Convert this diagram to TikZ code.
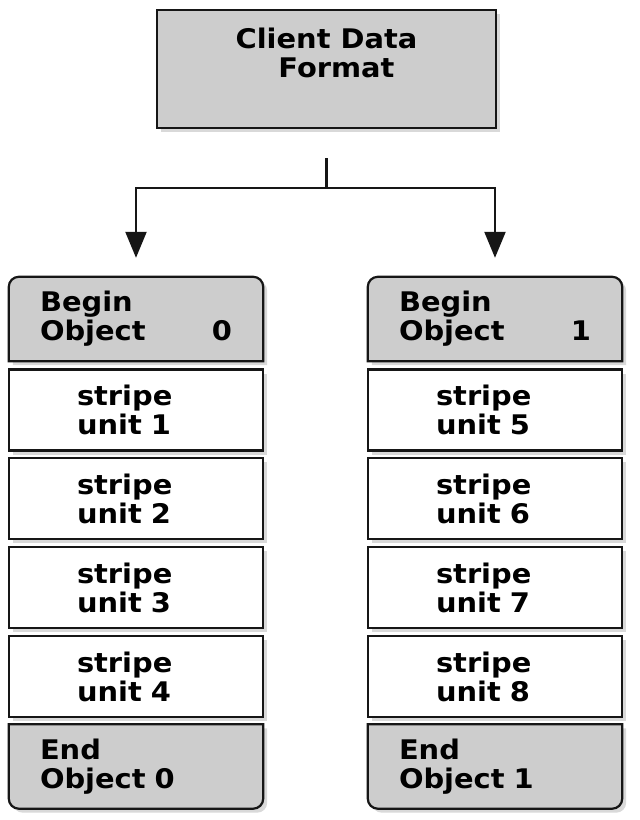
\documentclass[tikz,border=0pt]{standalone}
\usepackage{fontspec}
\setmainfont{DejaVu Sans}[FakeStretch=1.07]
\usetikzlibrary{arrows.meta,shadows,backgrounds}
\definecolor{BoxGray}{RGB}{205,205,205}
\definecolor{LineBlack}{RGB}{22,22,22}

\begin{document}
\begin{tikzpicture}[x=1pt,y=1pt,font=\fontsize{27}{29}\selectfont\bfseries,
    shade/.style={drop shadow={shadow xshift=4pt,shadow yshift=-4pt,opacity=.3}},
    edge/.style={draw=LineBlack,line width=2.2pt},
    stripebox/.style={edge,fill=white,shade,minimum width=254pt,minimum height=81pt,inner sep=0pt,text width=118pt,align=left},
    capbox/.style={inner sep=0pt,minimum width=254pt,minimum height=84pt,text width=192pt,align=left},
    capfill/.style={edge,fill=BoxGray,shade},
    link/.style={edge,-{Triangle[width=21pt,length=26pt]}}]
  \useasboundingbox (0,0) rectangle (640,-820);
  \node[edge,fill=BoxGray,shade,minimum width=339pt,minimum height=118pt] (client) at (326.5,-69) {};
  \node[anchor=north,inner sep=0pt,align=center] (clienttext) at (326.5,-28) {Client Data\\\hspace*{20pt}Format};

  % object 0 and object 1
  \node[capbox] (beg0) at (136,-319) {Begin\\Object\hfill 0};
  \node[capbox] (beg1) at (495,-319) {Begin\\Object\hfill 1};
  \foreach \i/\y in {1/410,2/498.5,3/587.5,4/676.5} {
    \pgfmathtruncatemacro{\j}{\i+4}
    \node[stripebox] (left\i) at (136,-\y) {stripe\\unit \i};
    \node[stripebox] (right\i) at (495,-\y) {stripe\\unit \j};
  }
  \node[capbox] (end0) at (136,-766.5) {End\\Object 0};
  \node[capbox] (end1) at (495,-766.5) {End\\Object 1};

  \begin{scope}[on background layer]
    \foreach \b in {beg0,beg1}
      \draw[capfill] (\b.south west) -- ([yshift=-10pt]\b.north west) arc[start angle=180,end angle=90,radius=10pt]
        -- ([xshift=-10pt]\b.north east) arc[start angle=90,end angle=0,radius=10pt] -- (\b.south east) -- cycle;
    \foreach \b in {end0,end1}
      \draw[capfill] (\b.north west) -- ([yshift=10pt]\b.south west) arc[start angle=180,end angle=270,radius=10pt]
        -- ([xshift=-10pt]\b.south east) arc[start angle=270,end angle=360,radius=10pt] -- (\b.north east) -- cycle;
  \end{scope}

  \coordinate (fork) at (326.5,-158);
  \draw[link] (fork) -- ++(0,-30) -| ([yshift=19pt]beg0.north);
  \draw[link] (fork) -- ++(0,-30) -| ([yshift=19pt]beg1.north);
\end{tikzpicture}
\end{document}
